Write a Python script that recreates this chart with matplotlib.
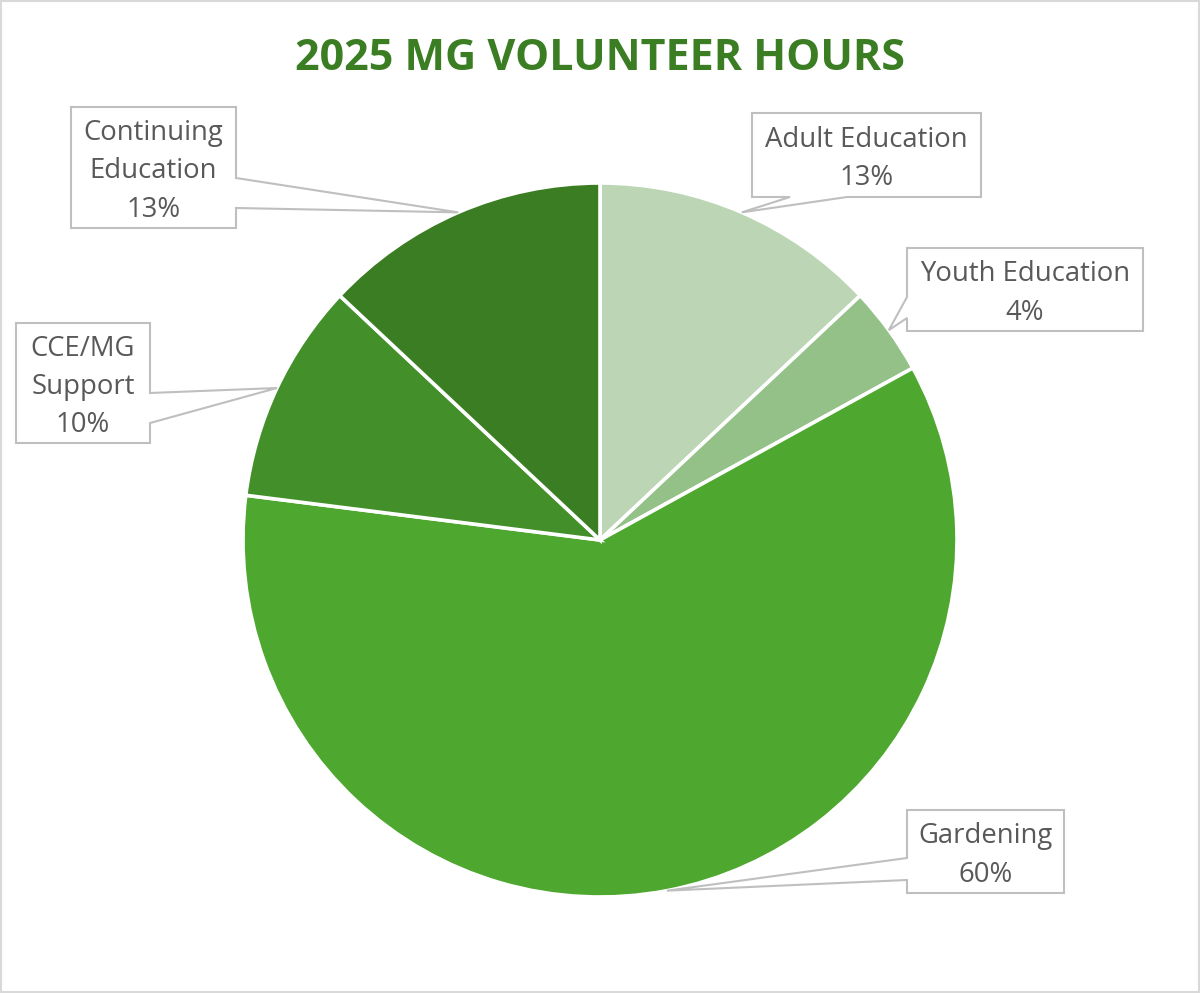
import numpy as np
import matplotlib.pyplot as plt
from matplotlib.patches import Polygon, Rectangle

# chart data
categories = ["Adult Education", "Youth Education", "Gardening",
              "CCE/MG Support", "Continuing Education"]
label_text = ["Adult Education", "Youth Education", "Gardening",
              "CCE/MG\nSupport", "Continuing\nEducation"]
shares = [13, 4, 60, 10, 13]
colors = ["#BCD6B5", "#93C187", "#4EA72E", "#43902A", "#3A7D22"]
title = "2025 MG VOLUNTEER HOURS"

# layout (pixels of the 1200x993 canvas)
W, H = 1200, 993
CX, CY, R = 600, 540, 357

# callout boxes: left, top, right, bottom, side the pointer leaves from, pointer base
boxes = [
    (752, 113, 981, 197, "bottom", (790, 847)),
    (907, 248, 1143, 331, "left", (297, 318)),
    (907, 810, 1064, 893, "left", (858, 880)),
    (16, 323, 150, 443, "right", (393, 423)),
    (71, 107, 236, 228, "right", (178, 208)),
]


def to_data(x, y):
    return (x - CX) / R, (CY - y) / R


fig = plt.figure(figsize=(W / 100, H / 100), dpi=100)
ax = fig.add_axes([0, 0, 1, 1])

wedges, _ = ax.pie(shares, colors=colors, startangle=90, counterclock=False,
                   radius=1, center=(0, 0),
                   wedgeprops=dict(edgecolor="white", linewidth=2.6))

ax.set_xlim(-CX / R, (W - CX) / R)
ax.set_ylim(-(H - CY) / R, CY / R)
ax.set_aspect("equal")
ax.axis("off")

for w, text, share, box in zip(wedges, label_text, shares, boxes):
    l, t, r, b, side, (b1, b2) = box
    mid = np.deg2rad((w.theta1 + w.theta2) / 2)
    tip = (np.cos(mid) * w.r, np.sin(mid) * w.r)

    pts = [to_data(l, t), to_data(r, t)]
    if side == "right":
        pts += [to_data(r, b1), tip, to_data(r, b2)]
    pts.append(to_data(r, b))
    if side == "bottom":
        pts += [to_data(b2, b), tip, to_data(b1, b)]
    pts.append(to_data(l, b))
    if side == "left":
        pts += [to_data(l, b2), tip, to_data(l, b1)]

    ax.add_patch(Polygon(pts, closed=True, facecolor="white",
                         edgecolor="#BFBFBF", linewidth=1.5, zorder=3))
    tx, ty = to_data((l + r) / 2, (t + b) / 2 + 4)
    ax.text(tx, ty, f"{text}\n{share}%", ha="center", va="center",
            fontsize=19.8, color="#595959", family="Open Sans",
            linespacing=1.5, zorder=4)

fig.text(0.5, 1 - 59 / H, title, ha="center", va="center",
         fontsize=31, fontweight="bold", color="#3A7D22", family="Open Sans")

fig.patches.append(Rectangle((0.001, 0.001), 0.998, 0.998,
                             transform=fig.transFigure, fill=False,
                             edgecolor="#D9D9D9", linewidth=1.5))

fig.savefig("out.png", dpi=100)
